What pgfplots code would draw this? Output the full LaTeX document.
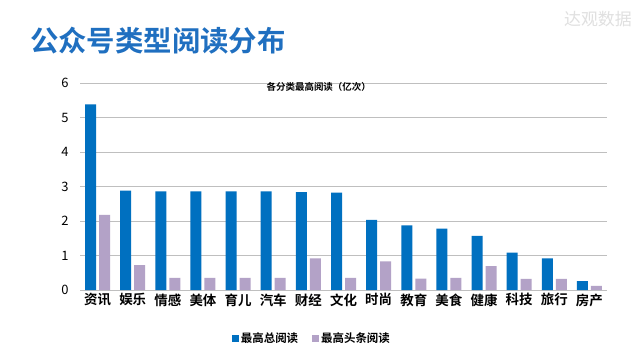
\documentclass[border=0pt]{standalone}
\usepackage{pgfplots}
\pgfplotsset{compat=1.18}
\usepackage{fontspec}
\setmainfont{Noto Sans CJK SC}[BoldFont={* Bold}]
\definecolor{barblue}{HTML}{0070C0}
\definecolor{barpurple}{HTML}{B3A2C7}
\definecolor{titleblue}{HTML}{1F6FC0}
\definecolor{gridgray}{HTML}{BFBFBF}
\begin{document}
\begin{tikzpicture}[x=1bp,y=1bp]
\path[use as bounding box,fill=white] (0,0) rectangle (640,360);
\node[anchor=west,font=\fontsize{28.5}{30}\selectfont\bfseries,text=titleblue,inner sep=0] at (30,319) {公众号类型阅读分布};
\node[anchor=east,font=\fontsize{17}{19}\selectfont,text=black!12,inner sep=0] at (632,341) {达观数据};
\begin{axis}[
  at={(80bp,70bp)}, anchor=south west,
  scale only axis, width=527bp, height=207bp,
  ybar, bar width=11bp,
  ymin=0, ymax=6, ytick={0,1,...,6},
  xmin=-0.5, xmax=14.5,
  xtick={0,...,14},
  xticklabels={资讯,娱乐,情感,美体,育儿,汽车,财经,文化,时尚,教育,美食,健康,科技,旅行,房产},
  xticklabel style={font=\fontsize{13.5}{15}\selectfont\bfseries},
  yticklabel style={font=\fontsize{13}{15}\selectfont, xshift=-8bp},
  /pgf/number format/assume math mode=true,
  ymajorgrids, grid style={gridgray, line width=0.8bp},
  axis y line*=left, y axis line style={draw=none},
  axis x line*=bottom, x axis line style={gridgray, line width=0.8bp, -},
  major tick length=0pt,
  enlarge x limits=false,
  legend style={at={(0.44,-0.185)}, anchor=north, draw=none, legend columns=2,
    font=\fontsize{11.5}{13}\selectfont\bfseries, /tikz/every even column/.append style={column sep=12bp}},
  legend image code/.code={\fill[#1] (0bp,-3.5bp) rectangle (7bp,3.5bp);},
  title={各分类最高阅读（亿次）}, title style={font=\fontsize{9.5}{11}\selectfont\bfseries, at={(0.453,0.99)}, anchor=north},
]
\addplot[fill=barblue, draw=none, bar shift=-7bp] coordinates {
(0,5.38) (1,2.88) (2,2.86) (3,2.86) (4,2.86) (5,2.86) (6,2.84) (7,2.82) (8,2.03) (9,1.87) (10,1.78) (11,1.57) (12,1.08) (13,0.92) (14,0.26)};
\addplot[fill=barpurple, draw=none, bar shift=7bp] coordinates {
(0,2.18) (1,0.72) (2,0.35) (3,0.35) (4,0.35) (5,0.35) (6,0.92) (7,0.35) (8,0.83) (9,0.33) (10,0.35) (11,0.69) (12,0.32) (13,0.32) (14,0.12)};
\legend{最高总阅读,最高头条阅读}
\end{axis}
\end{tikzpicture}
\end{document}
